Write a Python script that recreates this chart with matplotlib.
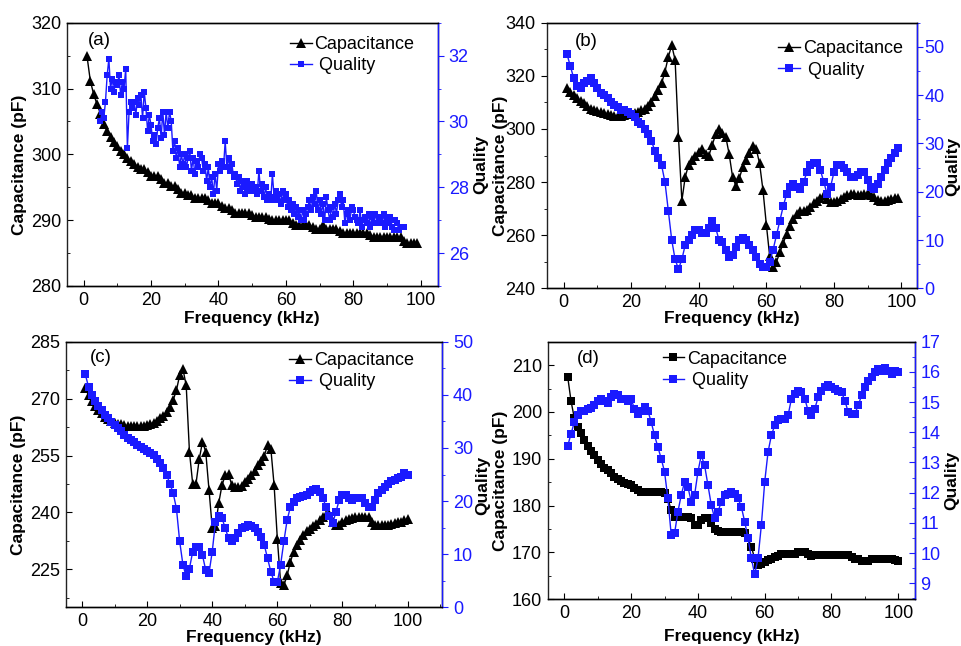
import numpy as np
import matplotlib
matplotlib.use("Agg")
import matplotlib.pyplot as plt
from matplotlib.ticker import MultipleLocator

plt.rcParams['font.family'] = ['Liberation Sans', 'DejaVu Sans']
plt.rcParams['font.size'] = 12.5
plt.rcParams['axes.linewidth'] = 1.0

BLUE = '#1a1aff'

# ---- panel (a) ----
freq_a_cap = np.arange(1, 100)
cap_a = [315.0, 311.2, 309.1, 307.6, 306.2, 304.6, 303.5, 302.6, 301.9, 301.2,
         300.5, 300.0, 299.5, 299.0, 298.6, 298.1, 297.8, 297.8, 297.3, 296.7,
         296.7, 296.7, 296.2, 295.7, 295.7, 295.2, 295.2, 294.7, 294.2, 294.2,
         293.8, 293.8, 293.4, 293.4, 293.4, 293.4, 293.0, 292.6, 292.6, 292.6,
         292.2, 291.8, 291.8, 291.6, 291.1, 291.1, 291.1, 291.1, 291.1, 290.8,
         290.5, 290.5, 290.5, 290.5, 290.2, 290.0, 290.0, 290.0, 290.0, 290.0,
         290.0, 289.6, 289.2, 289.2, 289.2, 289.2, 289.2, 288.9, 288.6, 288.6,
         289.2, 288.6, 288.6, 288.6, 288.6, 288.3, 288.0, 288.0, 288.0, 288.0,
         288.0, 288.0, 288.0, 288.0, 287.7, 287.5, 287.5, 287.5, 287.5, 287.5,
         287.5, 287.5, 287.5, 287.5, 286.9, 286.5, 286.5, 286.5, 286.5]
freq_a_q = np.arange(5, 95.5, 0.5)
qual_a = [30.0, 30.3, 30.1, 30.6, 31.4, 31.9, 31.0, 31.3, 30.9, 31.2,
          31.1, 31.4, 30.8, 31.2, 31.0, 31.6, 29.2, 30.3, 30.6, 30.4,
          30.6, 30.2, 30.7, 30.5, 30.8, 30.1, 30.9, 30.4, 29.7, 30.2,
          29.9, 29.4, 29.6, 29.3, 29.8, 30.1, 29.5, 30.3, 29.6, 30.3,
          29.8, 30.3, 30.0, 29.1, 29.4, 28.9, 29.2, 28.6, 29.0, 28.7,
          29.0, 28.6, 28.9, 29.1, 28.5, 28.9, 28.4, 28.8, 28.6, 29.0,
          28.9, 28.5, 28.7, 28.2, 28.6, 28.0, 28.3, 27.8, 28.4, 27.9,
          28.7, 28.5, 28.8, 28.6, 29.4, 28.6, 28.9, 28.5, 28.7, 28.3,
          28.4, 28.1, 28.3, 27.9, 28.2, 28.0, 27.8, 28.2, 27.9, 28.0,
          28.1, 27.9, 28.0, 27.8, 28.5, 27.9, 28.1, 27.7, 28.0, 27.6,
          27.8, 27.6, 28.4, 27.7, 27.9, 27.6, 27.8, 27.5, 27.9, 27.6,
          27.8, 27.4, 27.6, 27.3, 27.5, 27.2, 27.4, 27.1, 27.3, 27.0,
          27.3, 27.0, 27.2, 27.4, 27.6, 27.3, 27.7, 27.5, 27.9, 27.3,
          27.6, 27.2, 27.5, 27.0, 27.7, 27.3, 27.0, 27.4, 27.1, 27.5,
          27.2, 27.6, 27.8, 27.4, 27.6, 26.9, 27.2, 27.3, 27.0, 27.4,
          27.3, 27.1, 27.0, 26.9, 27.3, 26.8, 27.0, 27.1, 26.9, 27.2,
          26.8, 27.1, 26.9, 27.2, 26.9, 27.0, 27.1, 26.9, 27.2, 26.8,
          27.0, 26.9, 27.1, 26.8, 26.7, 27.0, 26.9, 26.7, 26.8, 26.8,
          26.8]

# ---- panel (b) ----
freq_b = np.arange(1, 100)
cap_b = [315.3, 314.0, 312.8, 311.5, 310.5, 309.6, 308.6, 307.7, 307.2, 306.8,
         306.3, 305.9, 305.5, 305.2, 305.0, 305.0, 305.0, 305.2, 305.5, 305.9,
         306.2, 306.5, 307.0, 307.7, 308.8, 310.3, 312.3, 314.7, 317.2, 321.6,
         327.2, 331.5, 326.0, 297.0, 273.0, 282.0, 286.5, 288.5, 290.0, 291.4,
         292.5, 290.5, 290.0, 294.0, 298.0, 299.8, 298.5, 297.0, 290.5, 282.0,
         278.5, 281.5, 285.5, 288.5, 291.0, 293.5, 292.5, 287.0, 277.0, 264.0,
         252.0, 248.0, 250.0, 253.5, 257.0, 260.5, 263.5, 266.0, 268.0, 269.2,
         269.2, 269.5, 270.5, 272.0, 273.0, 274.0, 275.0, 273.5, 272.5, 272.5,
         272.8, 273.8, 274.5, 275.2, 275.5, 275.5, 275.3, 275.3, 275.5, 275.8,
         275.3, 274.2, 273.2, 273.0, 273.0, 273.3, 273.8, 274.0, 274.0]
qual_b = [48.5, 46.0, 43.5, 42.0, 41.5, 42.5, 43.0, 43.5, 42.5, 41.5,
          40.5, 40.0, 39.5, 38.5, 38.0, 37.5, 37.0, 37.0, 36.5, 36.0,
          35.5, 34.5, 34.0, 33.0, 32.0, 30.5, 28.5, 27.0, 25.5, 22.0,
          16.0, 10.0, 6.0, 4.0, 6.0, 9.0, 10.0, 11.0, 12.0, 12.0,
          11.5, 11.5, 12.5, 14.0, 12.5, 10.0, 9.5, 8.0, 6.5, 7.0,
          8.5, 10.0, 10.5, 10.0, 9.0, 8.0, 6.5, 5.0, 4.5, 4.5,
          5.5, 8.0, 11.0, 14.0, 17.0, 19.5, 21.0, 21.5, 21.0, 20.5,
          22.0, 24.0, 25.5, 26.0, 26.0, 24.5, 22.0, 19.5, 21.0, 24.0,
          25.5, 25.5, 25.0, 24.0, 23.0, 23.0, 23.5, 24.0, 24.0, 22.5,
          21.0, 20.5, 21.5, 23.0, 24.5, 26.0, 27.0, 28.0, 29.0]

# ---- panel (c) ----
freq_c = np.arange(1, 101)
cap_c = [272.7, 270.9, 269.3, 268.0, 267.0, 266.1, 265.2, 264.6, 264.1, 263.7,
         263.4, 263.2, 263.0, 262.8, 262.7, 262.7, 262.7, 262.7, 262.8, 263.0,
         263.3, 263.7, 264.2, 264.8, 265.5, 266.4, 267.9, 269.6, 272.2, 276.2,
         277.8, 273.5, 256.0, 247.5, 247.5, 254.0, 258.6, 256.0, 246.0, 236.0,
         236.5, 242.5, 247.2, 249.8, 250.2, 247.2, 246.7, 246.7, 247.0, 248.0,
         248.8, 249.8, 251.0, 252.4, 253.6, 255.0, 257.7, 256.8, 247.2, 233.0,
         221.5, 220.8, 223.4, 227.0, 229.6, 231.3, 232.8, 234.0, 235.0, 235.7,
         236.4, 237.0, 237.9, 238.8, 239.3, 239.7, 237.5, 236.6, 236.6, 237.5,
         238.0, 238.4, 238.6, 238.8, 238.8, 238.8, 238.8, 238.9, 237.5, 236.6,
         236.6, 236.6, 236.6, 236.8, 237.0, 237.2, 237.4, 237.6, 237.9, 238.2]
qual_c = [43.9, 41.5, 40.0, 38.8, 37.9, 37.1, 36.3, 35.7, 34.9, 34.3,
          33.7, 33.1, 32.4, 31.9, 31.5, 31.1, 30.6, 30.2, 29.8, 29.4,
          29.1, 28.7, 28.0, 27.1, 26.2, 24.9, 23.3, 21.5, 18.6, 12.4,
          8.0, 5.8, 7.3, 10.5, 11.4, 11.4, 9.8, 7.0, 6.4, 10.5,
          16.1, 17.1, 16.8, 14.9, 13.0, 12.4, 13.0, 13.9, 14.9, 15.2,
          15.5, 15.4, 14.9, 14.2, 13.3, 11.7, 9.2, 6.7, 4.8, 4.8,
          8.0, 12.4, 16.4, 18.9, 19.9, 20.5, 20.8, 21.0, 21.1, 21.8,
          22.1, 22.2, 21.8, 20.5, 18.9, 17.1, 15.8, 18.0, 20.2, 21.1,
          21.1, 20.5, 20.2, 20.5, 20.6, 20.5, 19.6, 18.9, 18.9, 20.2,
          21.5, 22.1, 22.7, 23.3, 23.7, 24.0, 24.3, 24.6, 25.2, 24.9]

# ---- panel (d) ----
freq_d = np.arange(1, 101)
cap_d = [207.5, 202.3, 198.6, 196.8, 195.4, 194.0, 192.8, 191.6, 190.7, 189.7,
         188.8, 188.1, 187.5, 186.9, 186.2, 185.7, 185.3, 184.9, 184.6, 184.3,
         183.8, 183.3, 183.0, 182.8, 182.8, 182.8, 182.8, 182.8, 182.8, 182.6,
         181.5, 179.0, 177.6, 177.6, 177.6, 177.6, 177.6, 177.3, 175.9, 175.9,
         176.9, 177.4, 177.3, 176.2, 175.1, 174.6, 174.4, 174.4, 174.4, 174.4,
         174.4, 174.4, 174.4, 174.1, 173.0, 171.2, 168.7, 167.3, 167.5, 167.9,
         168.4, 168.7, 169.1, 169.3, 169.6, 169.6, 169.6, 169.6, 169.6, 170.0,
         170.2, 170.1, 169.6, 169.3, 169.5, 169.5, 169.5, 169.5, 169.5, 169.5,
         169.5, 169.5, 169.5, 169.5, 169.5, 169.1, 168.7, 168.5, 168.2, 168.2,
         168.2, 168.6, 168.6, 168.6, 168.6, 168.6, 168.6, 168.6, 168.4, 168.2]
qual_d = [13.55, 13.95, 14.34, 14.56, 14.69, 14.72, 14.78, 14.80, 14.89, 15.02,
          15.09, 15.05, 14.98, 15.16, 15.27, 15.22, 15.11, 15.09, 15.05, 15.09,
          14.78, 14.61, 14.72, 14.83, 14.72, 14.34, 13.90, 13.51, 13.13, 12.69,
          11.81, 10.60, 10.65, 11.37, 11.92, 12.36, 12.19, 11.70, 11.92, 12.69,
          13.24, 12.90, 12.25, 11.59, 11.15, 11.37, 11.70, 11.92, 11.97, 12.03,
          11.97, 11.81, 11.53, 11.04, 10.49, 9.83, 9.30, 9.83, 10.93, 12.36,
          13.35, 13.90, 14.23, 14.41, 14.45, 14.45, 14.56, 15.11, 15.27, 15.38,
          15.33, 15.11, 14.72, 14.56, 14.78, 15.16, 15.38, 15.49, 15.55, 15.49,
          15.44, 15.38, 15.33, 15.05, 14.67, 14.61, 14.61, 14.89, 15.22, 15.49,
          15.71, 15.82, 15.99, 16.10, 16.04, 16.12, 16.04, 15.93, 16.04, 15.99]


def draw_panel(rect, tag, fc, cap, fq, qual, cap_marker, cap_ms, q_ms,
               xlim, ylim_l, ylim_r, loc_l, loc_r, left_dir, right_dir,
               leg_xy, tag_xy, ylab_x, rlab_x, xlab_y, rpad=4):
    ax = fig.add_axes(rect)
    ax2 = ax.twinx()
    l1, = ax.plot(fc, cap, color='black', marker=cap_marker, ms=cap_ms,
                  lw=1.0, mew=0)
    l2, = ax2.plot(fq, qual, color=BLUE, marker='s', ms=q_ms, lw=1.0, mew=0)

    ax.set_xlim(*xlim)
    ax.set_ylim(*ylim_l)
    ax2.set_ylim(*ylim_r)
    ax.xaxis.set_major_locator(MultipleLocator(20))
    ax.xaxis.set_minor_locator(MultipleLocator(10))
    ax.yaxis.set_major_locator(MultipleLocator(loc_l[0]))
    ax.yaxis.set_minor_locator(MultipleLocator(loc_l[1]))
    ax2.yaxis.set_major_locator(MultipleLocator(loc_r[0]))
    ax2.yaxis.set_minor_locator(MultipleLocator(loc_r[1]))

    ax.tick_params(axis='both', labelsize=13)
    ax2.tick_params(axis='y', labelsize=13)
    ax.tick_params(axis='x', which='both', direction='in', top=False, pad=4)
    ax.tick_params(axis='x', which='major', length=4)
    ax.tick_params(axis='x', which='minor', length=2.5)
    ax.tick_params(axis='y', which='both', direction=left_dir, right=False, pad=4)
    ax.tick_params(axis='y', which='major', length=4)
    ax.tick_params(axis='y', which='minor', length=2.5)
    ax2.tick_params(axis='y', which='both', direction=right_dir, colors=BLUE, pad=rpad)
    ax2.tick_params(axis='y', which='major', length=4)
    ax2.tick_params(axis='y', which='minor', length=2.5)
    ax2.spines['right'].set_color(BLUE)
    ax2.spines['left'].set_visible(False)
    for sp in ['top', 'bottom', 'left']:
        ax.spines[sp].set_color('#222222')

    ax.set_xlabel('Frequency (kHz)', fontweight='bold', fontsize=12.5)
    ax.xaxis.set_label_coords(0.5, xlab_y)
    ax.set_ylabel('Capacitance (pF)', fontweight='bold', va='center', fontsize=12.5)
    ax.yaxis.set_label_coords(ylab_x, 0.46)
    ax2.set_ylabel('Quality', fontweight='bold', va='center', fontsize=12.5)
    ax2.yaxis.set_label_coords(rlab_x, 0.46)

    ax.text(tag_xy[0], tag_xy[1], tag, transform=ax.transAxes,
            ha='left', va='center', fontsize=13.5)
    ax2.legend([l1, l2], ['Capacitance', ' Quality'], loc='upper left',
               bbox_to_anchor=leg_xy, frameon=False, borderpad=0,
               borderaxespad=0, handlelength=1.2, handletextpad=0.15,
               labelspacing=0.25, numpoints=1, fontsize=13)
    return ax, ax2


fig = plt.figure(figsize=(9.61, 6.46), dpi=100)

draw_panel([0.0694, 0.5573, 0.386, 0.4076], '(a)', freq_a_cap, cap_a,
           freq_a_q, qual_a, '^', 6.5, 5, (-5, 105), (280, 320), (25, 33),
           (10, 5), (2, 1), 'in', 'out', (0.602, 0.95), (0.057, 0.934),
           -0.128, 1.116, -0.095)
draw_panel([0.5689, 0.5537, 0.385, 0.4111], '(b)', freq_b, cap_b,
           freq_b, qual_b, '^', 6.5, 5.2, (-5, 104.5), (240, 340), (0, 55),
           (20, 10), (10, 5), 'out', 'out', (0.626, 0.935), (0.077, 0.928),
           -0.126, 1.097, -0.085, rpad=1.5)
draw_panel([0.0684, 0.0599, 0.3913, 0.4111], '(c)', freq_c, cap_c,
           freq_c, qual_c, '^', 6.5, 5.2, (-5, 110.5), (215, 285), (0, 50),
           (15, 7.5), (10, 5), 'in', 'out', (0.595, 0.962), (0.063, 0.939),
           -0.126, 1.109, -0.086)
draw_panel([0.5699, 0.0723, 0.3822, 0.3988], '(d)', freq_d, cap_d,
           freq_d, qual_d, 's', 5.2, 5.2, (-5, 105), (160, 215), (8.47, 17),
           (10, 5), (1, 0.5), 'in', 'in', (0.313, 0.965), (0.079, 0.936),
           -0.128, 1.099, -0.116)

fig.savefig('out.png', dpi=100)
